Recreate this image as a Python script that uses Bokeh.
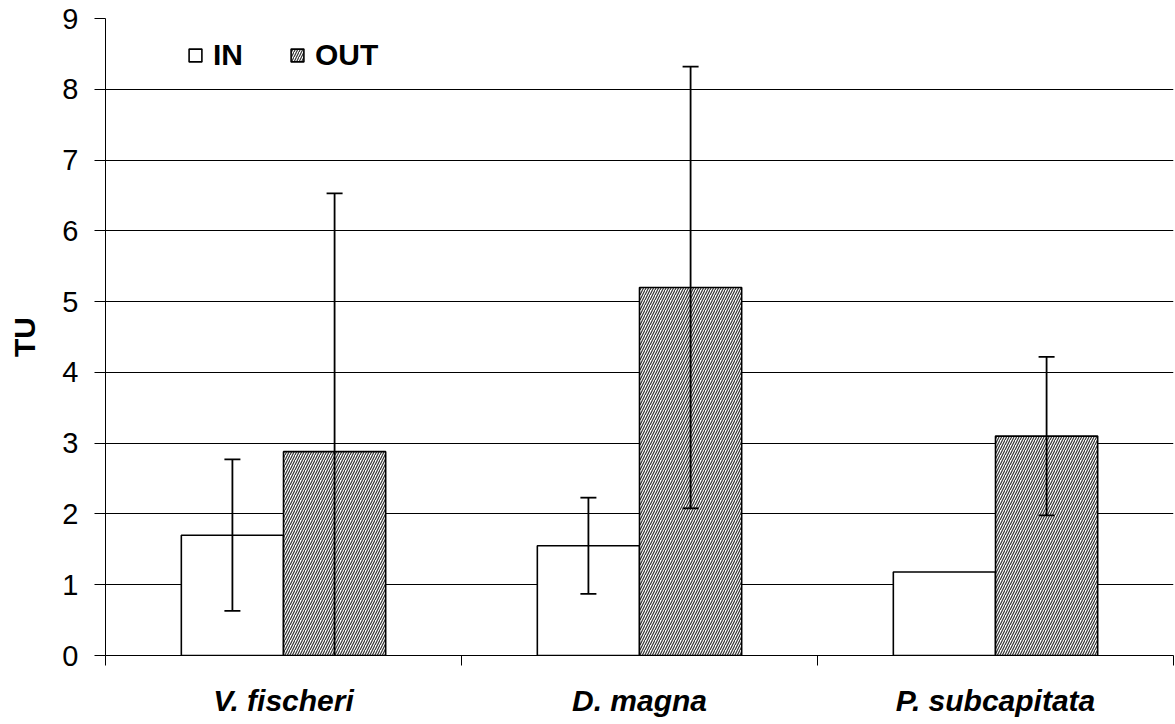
import numpy as np
from bokeh.plotting import figure
from bokeh.models import (ColumnDataSource, FixedTicker, Whisker, TeeHead, Legend,
                          LegendItem, Range1d)
from bokeh.transform import dodge
from bokeh.embed import file_html
from bokeh.resources import INLINE

categories = ["V. fischeri", "D. magna", "P. subcapitata"]
in_values = [1.70, 1.55, 1.18]
in_errors = [1.07, 0.68, 0.0]
out_values = [2.88, 5.20, 3.10]
out_errors = [3.65, 3.12, 1.12]
y_ticks = [0, 1, 2, 3, 4, 5, 6, 7, 8, 9]

FONT = "Liberation Sans"
BAR_W = 0.287
OFF = BAR_W / 2

xc = np.arange(len(categories)) + 0.5
src = ColumnDataSource(dict(
    x=xc,
    inv=in_values,
    outv=out_values,
    out_lo=np.array(out_values) - np.array(out_errors),
    out_hi=np.array(out_values) + np.array(out_errors),
))

p = figure(width=1175, height=724, output_backend="svg", toolbar_location=None,
           x_range=Range1d(0, len(categories)), y_range=Range1d(0, 9),
           min_border_left=105, min_border_right=2, min_border_top=18,
           min_border_bottom=69)
p.outline_line_color = None
p.background_fill_color = "white"
p.border_fill_color = "white"

r_in = p.vbar(x=dodge("x", -OFF), top="inv", width=BAR_W, source=src,
              fill_color="white", line_color="black", line_width=1.6)
r_out = p.vbar(x=dodge("x", OFF), top="outv", width=BAR_W, source=src,
               fill_color="white", line_color="black", line_width=1.6,
               hatch_pattern="right_diagonal_line", hatch_color="#333333",
               hatch_scale=5, hatch_weight=1.2)

# error bars (IN: skip zero-width)
in_idx = [i for i, e in enumerate(in_errors) if e > 0]
src_in_err = ColumnDataSource(dict(
    x=[xc[i] for i in in_idx],
    lo=[in_values[i] - in_errors[i] for i in in_idx],
    hi=[in_values[i] + in_errors[i] for i in in_idx],
))


def head():
    return TeeHead(size=16, line_width=1.8, line_color="black")


w1 = Whisker(base=dodge("x", -OFF), lower="lo", upper="hi", source=src_in_err,
             line_color="black", line_width=1.8, level="overlay",
             upper_head=head(), lower_head=head())
w2 = Whisker(base=dodge("x", OFF), lower="out_lo", upper="out_hi", source=src,
             line_color="black", line_width=1.8, level="overlay",
             upper_head=head(), lower_head=head())
p.add_layout(w1)
p.add_layout(w2)

# axes
p.xaxis.ticker = FixedTicker(ticks=list(xc), minor_ticks=list(range(len(categories) + 1)))
p.xaxis.major_label_overrides = {float(x): c for x, c in zip(xc, categories)}
p.xaxis.major_tick_out = 0
p.xaxis.major_tick_in = 0
p.xaxis.minor_tick_out = 10
p.xaxis.minor_tick_in = 0
p.xaxis.minor_tick_line_color = "black"
p.xaxis.axis_line_color = "black"
p.xaxis.axis_line_width = 1
p.xaxis.major_label_text_font = FONT
p.xaxis.major_label_text_font_style = "bold italic"
p.xaxis.major_label_text_font_size = "30px"
p.xaxis.major_label_text_color = "black"
p.xaxis.major_label_standoff = 18

p.yaxis.ticker = FixedTicker(ticks=y_ticks)
p.yaxis.minor_tick_line_color = None
p.yaxis.major_tick_out = 11
p.yaxis.major_tick_in = 0
p.yaxis.major_tick_line_color = "black"
p.yaxis.axis_line_color = "black"
p.yaxis.major_label_text_font = FONT
p.yaxis.major_label_text_font_size = "29px"
p.yaxis.major_label_text_color = "black"
p.yaxis.major_label_standoff = 16
p.yaxis.axis_label = "TU"
p.yaxis.axis_label_text_font = FONT
p.yaxis.axis_label_text_font_style = "bold"
p.yaxis.axis_label_text_font_size = "30px"
p.yaxis.axis_label_text_color = "black"
p.yaxis.axis_label_standoff = 18

p.xgrid.grid_line_color = None
p.ygrid.grid_line_color = "black"
p.ygrid.grid_line_width = 1

legend = Legend(items=[LegendItem(label="IN", renderers=[r_in]),
                       LegendItem(label="OUT", renderers=[r_out])],
                orientation="horizontal", location=(82, 583),
                glyph_width=16, glyph_height=16, label_standoff=10, spacing=46,
                padding=0, margin=0, border_line_color=None,
                background_fill_alpha=0,
                label_text_font=FONT, label_text_font_style="bold",
                label_text_font_size="30px", label_text_color="black")
p.add_layout(legend)

open("out.html", "w").write(file_html(p, INLINE))
